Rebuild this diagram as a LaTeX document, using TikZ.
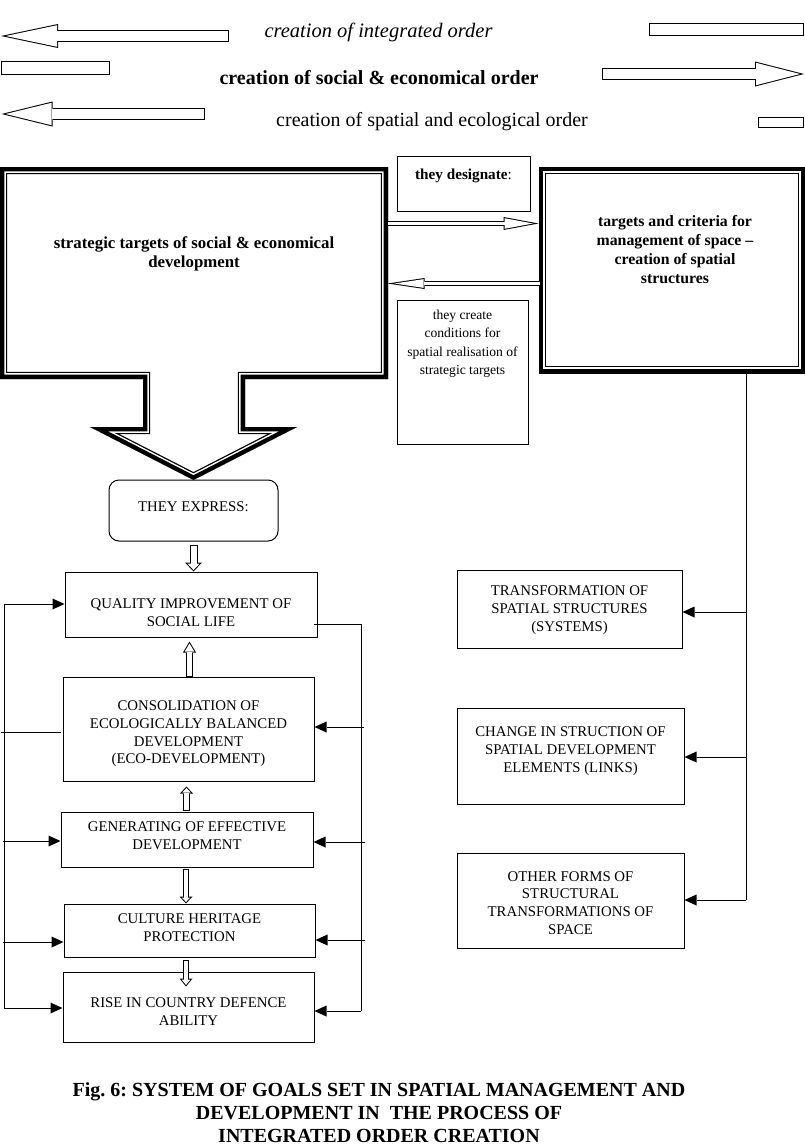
\documentclass[tikz,border=0pt]{standalone}
\usepackage{fontspec}
\setmainfont{Liberation Serif}
\usetikzlibrary{arrows.meta,calc}
\frenchspacing

\newcommand\fsz[2]{\fontsize{#1}{#2}\selectfont}

% hollow block arrow: #1 shaft width, #2 head length, #3 head width, #4 from, #5 to
\newcommand\blockarrow[5]{%
 \pgfmathsetmacro\baL{#2}%
 \pgfmathsetmacro\baH{#3/2}%
 \pgfmathsetmacro\baHyp{sqrt(\baL*\baL+\baH*\baH)}%
 \pgfmathsetmacro\baS{\baHyp/\baH}%
 \pgfmathsetmacro\baLi{\baL-1-\baS}%
 \pgfmathsetmacro\baWi{2*(\baH*(\baL-1)/\baL-\baHyp/\baL)}%
 \pgfmathsetmacro\baSi{#1-2}%
 \draw[line width=#1pt, -{Triangle[length=\baL pt, width=#3pt, line width=0pt]}] #4 -- #5;
 \draw[white, line width=\baSi pt, shorten <=1pt, shorten >=\baS pt, -{Triangle[length=\baLi pt, width=\baWi pt, line width=0pt]}] #4 -- #5;
}

\def\stratshape{(0,167) -- (388,167) -- (388,379) -- (245,379) -- (245,427) -- (297,427) -- (193.5,480) -- (90,427) -- (143,427) -- (143,379) -- (0,379) -- cycle}
\def\targshape{(539,167) rectangle (805,373)}

\tikzset{
 ln/.style={line width=1pt},
 arr/.style={line width=1pt, -{Triangle[length=12pt,width=11pt,line width=0pt]}},
 box/.style={draw, line width=1pt, inner sep=0pt},
 captxt/.style={font=\fsz{14.8}{17.7}, align=center, inner sep=0pt},
 smalltxt/.style={font=\fsz{13.6}{18.5}, align=center, inner sep=0pt},
 bigtxt/.style={font=\bfseries\fsz{15.8}{19}, align=center, inner sep=0pt},
 toptxt/.style={inner sep=0pt},
 figtxt/.style={font=\bfseries\fsz{20}{23}, align=center, inner sep=0pt}
}

\begin{document}
\begin{tikzpicture}[x=1pt,y=-1pt,line width=1pt]
\useasboundingbox (0,0) rectangle (805,1148);
\fill[white] (0,0) rectangle (805,1148);

% ---------- top band ----------
\node[toptxt, font=\itshape\fsz{20.5}{22}] (t1) at (378.5,32) {creation of integrated order};
\node[toptxt, font=\bfseries\fsz{20}{22}] (t2) at (379,78) {creation of social \& economical order};
\node[toptxt, font=\fsz{20}{22}] (t3) at (432,122) {creation of spatial and ecological order};

\blockarrow{12}{57}{24}{(229,36)}{(1,36)}
\blockarrow{12}{49}{25}{(602,74)}{(804,74)}
\blockarrow{12}{51}{25}{(205,114)}{(1.5,114)}
\draw[ln] (649,24) rectangle (803,36);
\draw[ln] (1.5,62) rectangle (109,74);
\draw[ln] (758,117) rectangle (803,127);

% ---------- big boxes ----------
\begin{scope}
 \clip \stratshape;
 \draw[line width=14.2pt] \stratshape;
 \draw[line width=11.6pt, white] \stratshape;
 \draw[line width=8.6pt] \stratshape;
\end{scope}
\begin{scope}
 \clip \targshape;
 \draw[line width=14.2pt] \targshape;
 \draw[line width=11.6pt, white] \targshape;
 \draw[line width=8.6pt] \targshape;
\end{scope}
\node[minimum width=388pt, minimum height=212pt, inner sep=0pt] (strat) at (194,273) {};
\node[minimum width=266pt, minimum height=206pt, inner sep=0pt] (targ) at (672,270) {};
\node[bigtxt, font=\bfseries\fsz{16.8}{19}] (stratt) at (194,253.5) {strategic targets of social \& economical\\development};
\node[bigtxt] (targt) at (675,249.5) {targets and criteria for\\management of space –\\creation of spatial\\structures};

\node[box, minimum width=133pt, minimum height=55pt] (desg) at (463.5,183.5) {};
\node[toptxt, font=\fsz{15.2}{17}] (desgt) at ($(desg.center)+(0,-7.5)$) {\textbf{they designate}:};
\node[box, minimum width=131pt, minimum height=144pt] (cond) at (462.5,372) {};
\node[smalltxt] (condt) at ($(cond.center)+(0,-28.5)$) {they create\\conditions for\\spatial realisation of\\strategic targets};

\blockarrow{5.5}{35}{13}{($(strat.east)+(-2,-49.5)$)}{($(targ.west)+(0,-46.5)$)}
\blockarrow{5.5}{37}{11}{($(targ.west)+(2,13.5)$)}{($(strat.east)+(-1,10.5)$)}

% ---------- left column ----------
\node[box, rounded corners=10pt, minimum width=169pt, minimum height=61pt] (ex) at (193.5,510.5) {};
\node[captxt] (ext) at ($(ex.center)+(0,-3.5)$) {THEY EXPRESS:};
\node[box, minimum width=252pt, minimum height=65pt] (q) at (191,604.5) {};
\node[captxt] (qt) at ($(q.center)+(0,8.5)$) {QUALITY IMPROVEMENT OF\\SOCIAL LIFE};
\node[box, minimum width=251pt, minimum height=104pt] (cons) at (188.5,729) {};
\node[captxt] (const) at ($(cons.center)+(0,5)$) {CONSOLIDATION OF\\ECOLOGICALLY BALANCED\\DEVELOPMENT\\(ECO-DEVELOPMENT)};
\node[box, minimum width=252pt, minimum height=55pt] (gen) at (187,839.5) {};
\node[captxt] (gent) at ($(gen.center)+(0,-3.5)$) {GENERATING OF EFFECTIVE\\DEVELOPMENT};
\node[box, minimum width=251pt, minimum height=53pt] (cul) at (189.5,930.5) {};
\node[captxt] (cult) at ($(cul.center)+(0,-2.5)$) {CULTURE HERITAGE\\PROTECTION};
\node[box, minimum width=251pt, minimum height=70pt] (rise) at (188.5,1007) {};
\node[captxt] (riset) at ($(rise.center)+(0,4.5)$) {RISE IN COUNTRY DEFENCE\\ABILITY};

\blockarrow{8}{9}{17}{($(ex.south)+(0,3)$)}{(ex.south |- q.north)}
\blockarrow{7}{11}{13}{($(cons.north)+(1,0)$)}{($(cons.north |- q.south)+(1,4)$)}
\blockarrow{7}{7}{13}{($(gen.north)+(-0.5,-1)$)}{($(gen.north |- cons.south)+(-0.5,5)$)}
\blockarrow{6}{7}{13}{($(gen.south)+(-1,1)$)}{($(gen.south |- cul.north)+(-1,0)$)}
\blockarrow{6}{8}{13}{($(cul.south)+(-3.5,2)$)}{($(cul.south |- rise.north)+(-3.5,15)$)}

% left feedback bus
\coordinate (lb1) at (4,604);
\coordinate (lb2) at (4,1008);
\coordinate (lcons) at (1,732);
\coordinate (lgen) at (3,841);
\coordinate (lcul) at (3,942);
\draw[ln] (lb1) -- (lb2);
\draw[arr] (lb1) -- (lb1 -| q.west);
\draw[ln] (lcons) -- ($(lcons -| cons.west)+(-2,0)$);
\draw[arr] (lgen) -- (lgen -| gen.west);
\draw[arr] (lcul) -- (lcul -| cul.west);
\draw[arr] (lb2) -- (lb2 -| rise.west);

% right feedback bus
\coordinate (rc) at (361,624);
\coordinate (rb) at (361,1011);
\coordinate (rcons) at (364,727);
\coordinate (rgen) at (365,842);
\coordinate (rcul) at (365,940);
\draw[ln] ($(q.east)+(-4,19.5)$) -- (rc) -- (rb);
\draw[arr] (rb) -- (rb -| rise.east);
\draw[arr] (rcons) -- (rcons -| cons.east);
\draw[arr] (rgen) -- (rgen -| gen.east);
\draw[arr] (rcul) -- (rcul -| cul.east);

% ---------- right column ----------
\node[box, minimum width=225pt, minimum height=78pt] (tr) at (569.5,609) {};
\node[captxt] (trt) at ($(tr.center)+(0,1)$) {TRANSFORMATION OF\\SPATIAL STRUCTURES\\(SYSTEMS)};
\node[box, minimum width=227pt, minimum height=96pt] (ch) at (570.5,756) {};
\node[captxt] (cht) at ($(ch.center)+(0,-5)$) {CHANGE IN STRUCTION OF\\SPATIAL DEVELOPMENT\\ELEMENTS (LINKS)};
\node[box, minimum width=227pt, minimum height=95pt] (oth) at (570.5,900.5) {};
\node[captxt] (otht) at ($(oth.center)+(0,2.5)$) {OTHER FORMS OF\\STRUCTURAL\\TRANSFORMATIONS OF\\SPACE};

\coordinate (rt) at ($(targ.south)+(74,0)$);
\coordinate (r1) at (746,612);
\coordinate (r2) at (746,757);
\coordinate (r3) at (746,900);
\draw[ln] (rt) -- (r3);
\draw[arr] (r1) -- (r1 -| tr.east);
\draw[arr] (r2) -- (r2 -| ch.east);
\draw[arr] (r3) -- (r3 -| oth.east);

% ---------- caption ----------
\node[figtxt] (fig) at (379,1113) {Fig. 6: SYSTEM OF GOALS SET IN SPATIAL MANAGEMENT AND\\DEVELOPMENT IN\ \ THE PROCESS OF\\INTEGRATED ORDER CREATION};
\end{tikzpicture}
\end{document}
